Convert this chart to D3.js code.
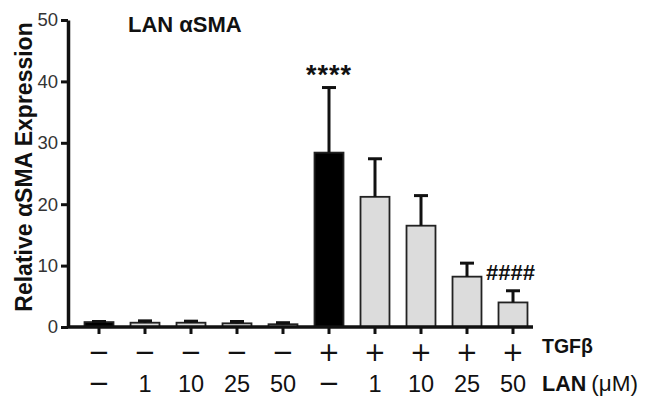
<!DOCTYPE html>
<html>
<head>
<meta charset="utf-8">
<script src="https://cdn.jsdelivr.net/npm/d3@7"></script>
<style>
  html, body { margin: 0; padding: 0; background: #fff; }
  svg { display: block; font-family: "Liberation Sans", Arial, sans-serif; }
</style>
</head>
<body>
<svg id="chart" width="659" height="400"></svg>
<script>
// ---- data ----
const groups = [0, 1, 2, 3, 4, 5, 6, 7, 8, 9];
const tgfLabels = ["\u2212", "\u2212", "\u2212", "\u2212", "\u2212", "+", "+", "+", "+", "+"];
const lanLabels = ["\u2212", "1", "10", "25", "50", "\u2212", "1", "10", "25", "50"];
const means = [0.8, 0.7, 0.7, 0.6, 0.45, 28.4, 21.2, 16.5, 8.2, 4.0];
const sems = [0.1, 0.3, 0.25, 0.3, 0.25, 10.6, 6.2, 4.9, 2.2, 1.9];
const isControl = [true, false, false, false, false, true, false, false, false, false];
const yTicks = [0, 10, 20, 30, 40, 50];
const title = "LAN \u03b1SMA";
const yTitle = "Relative \u03b1SMA Expression";
const sigTop = { index: 5, text: "****" };
const sigHash = { index: 9, text: "####" };

// ---- layout ----
const svg = d3.select("#chart");
const x = d3.scaleBand().domain(groups).range([76, 536]).paddingInner(0.37).paddingOuter(0.185);
const y = d3.scaleLinear().domain([0, 50]).range([327, 20]);
const axisX0 = 68, axisX1 = 533;
const ink = "#111";
const symFont = "DejaVu Sans, sans-serif";

// y axis
const yAxis = svg.append("g").attr("transform", `translate(${axisX0},0)`)
  .call(d3.axisLeft(y).tickValues(yTicks).tickSize(7).tickPadding(3).tickSizeOuter(0));
yAxis.select(".domain").attr("stroke", ink).attr("stroke-width", 3.5);
yAxis.selectAll(".tick line").attr("stroke", ink).attr("stroke-width", 3);
yAxis.selectAll(".tick text").attr("font-size", 18.5).attr("fill", "#333")
  .attr("font-family", "Liberation Sans, Arial, sans-serif");

// bars
svg.append("g").selectAll("rect").data(groups).join("rect")
  .attr("x", d => x(d))
  .attr("y", d => y(means[d]))
  .attr("width", x.bandwidth())
  .attr("height", d => y(0) - y(means[d]))
  .attr("fill", d => isControl[d] ? "#000" : "#dcdcdc")
  .attr("stroke", "#222")
  .attr("stroke-width", 1.8);

// error bars
const eb = svg.append("g").attr("stroke", ink).attr("stroke-width", 3);
eb.selectAll("line.v").data(groups).join("line").attr("class", "v")
  .attr("x1", d => x(d) + x.bandwidth() / 2).attr("x2", d => x(d) + x.bandwidth() / 2)
  .attr("y1", d => y(means[d])).attr("y2", d => y(means[d] + sems[d]));
eb.selectAll("line.c").data(groups).join("line").attr("class", "c")
  .attr("x1", d => x(d) + x.bandwidth() / 2 - 7).attr("x2", d => x(d) + x.bandwidth() / 2 + 7)
  .attr("y1", d => y(means[d] + sems[d])).attr("y2", d => y(means[d] + sems[d]));

// x axis
svg.append("line").attr("x1", axisX0).attr("x2", axisX1).attr("y1", y(0)).attr("y2", y(0))
  .attr("stroke", ink).attr("stroke-width", 3.5);
svg.append("g").selectAll("line").data(groups).join("line")
  .attr("x1", d => x(d) + x.bandwidth() / 2).attr("x2", d => x(d) + x.bandwidth() / 2)
  .attr("y1", y(0)).attr("y2", y(0) + 7)
  .attr("stroke", ink).attr("stroke-width", 3);

// bottom labels
const cx = d => x(d) + x.bandwidth() / 2;
svg.append("g").selectAll("text").data(groups).join("text")
  .attr("x", cx).attr("y", 360.5)
  .attr("text-anchor", "middle").attr("font-size", 26).attr("font-family", symFont)
  .attr("fill", ink)
  .text(d => tgfLabels[d]);
svg.append("g").selectAll("text").data(groups).join("text")
  .attr("x", cx).attr("y", d => lanLabels[d] === "\u2212" ? 391.5 : 392)
  .attr("text-anchor", "middle")
  .attr("font-size", d => lanLabels[d] === "\u2212" ? 26 : 23.5)
  .attr("font-family", d => lanLabels[d] === "\u2212" ? symFont : null)
  .attr("fill", ink)
  .text(d => lanLabels[d]);

svg.append("text").attr("x", 542).attr("y", 353).attr("font-size", 19.5)
  .attr("font-weight", "bold").attr("fill", ink).text("TGF\u03b2");
const lanT = svg.append("text").attr("x", 542).attr("y", 391).attr("fill", ink);
lanT.append("tspan").attr("font-size", 21.5).attr("font-weight", "bold").text("LAN");
lanT.append("tspan").attr("font-size", 22.5).attr("dx", 5).text("(\u03bcM)");

// title
svg.append("text").attr("x", 128).attr("y", 32).attr("font-size", 22)
  .attr("font-weight", "bold").attr("fill", ink).text(title);

// y title
svg.append("text").attr("transform", "translate(32,167) rotate(-90)")
  .attr("text-anchor", "middle").attr("font-size", 23).attr("font-weight", "bold")
  .attr("fill", ink).text(yTitle);

// significance marks
svg.append("text").attr("x", cx(sigTop.index)).attr("y", 84)
  .attr("text-anchor", "middle").attr("font-size", 27).attr("font-weight", "bold")
  .attr("letter-spacing", 1).attr("fill", ink).text(sigTop.text);
svg.append("text").attr("x", 486).attr("y", 280)
  .attr("font-size", 22).attr("font-weight", "bold").attr("fill", ink).text(sigHash.text);
</script>
</body>
</html>
